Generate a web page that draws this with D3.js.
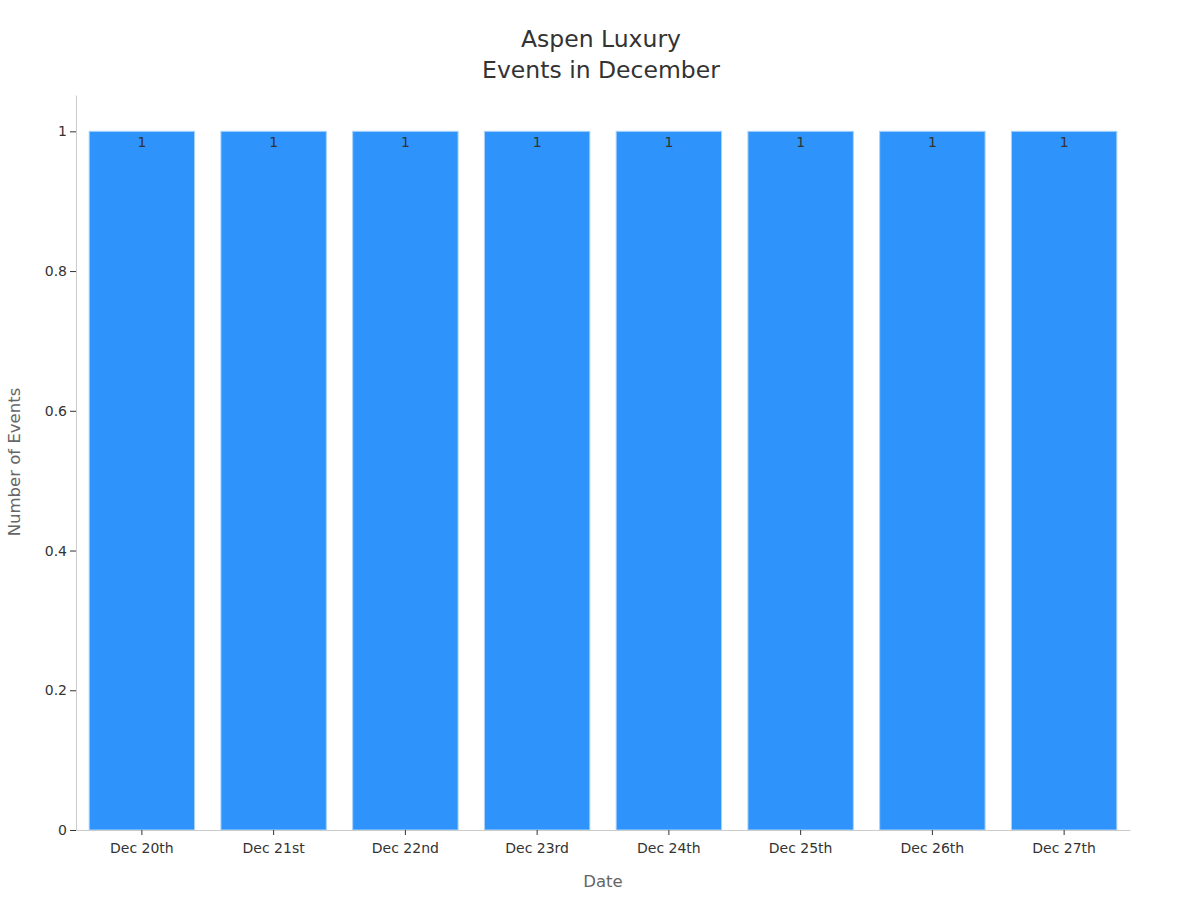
<!DOCTYPE html>
<html><head><meta charset="utf-8">
<script src="https://cdn.jsdelivr.net/npm/d3@7"></script>
<style>body{margin:0;background:#fff;} svg{display:block;}</style>
</head><body>
<svg id="c" width="1200" height="900"></svg>
<script>
const categories = ["Dec 20th","Dec 21st","Dec 22nd","Dec 23rd","Dec 24th","Dec 25th","Dec 26th","Dec 27th"];
const values = [1,1,1,1,1,1,1,1];
const yTicks = [0,0.2,0.4,0.6,0.8,1];
const titleLines = ["Aspen Luxury","Events in December"];

const svg = d3.select("#c");
const font = "DejaVu Sans, sans-serif";
const m = {left:76, right:1130, top:95, bottom:830};

const x = d3.scaleBand().domain(categories).range([m.left, m.right]).paddingInner(0.2).paddingOuter(0.1);
const y = d3.scaleLinear().domain([0,1.052]).range([m.bottom, m.top]);

svg.selectAll("rect.bar").data(values).join("rect").attr("class","bar")
  .attr("x",(d,i)=>x(categories[i])).attr("width",x.bandwidth())
  .attr("y",d=>y(d)).attr("height",d=>y(0)-y(d))
  .attr("fill","#2e93fa").attr("stroke","#a9d2fb").attr("stroke-width",1);

svg.selectAll("text.lbl").data(values).join("text").attr("class","lbl")
  .attr("x",(d,i)=>x(categories[i])+x.bandwidth()/2).attr("y",d=>y(d)+16)
  .attr("text-anchor","middle").attr("font-family",font).attr("font-size",14).attr("fill","#333")
  .text(d=>d);

const yAxis = svg.append("g").attr("transform",`translate(${m.left},0)`)
  .call(d3.axisLeft(y).tickValues(yTicks).tickSize(6).tickSizeOuter(0).tickFormat(d=>d===0||d===1?d3.format("d")(d):d3.format(".1f")(d)));
yAxis.select(".domain").attr("stroke","#ccc");
yAxis.selectAll(".tick line").attr("stroke","#333");
yAxis.selectAll(".tick text").attr("font-family",font).attr("font-size",14).attr("fill","#333").attr("x",-9);

const xAxis = svg.append("g").attr("transform",`translate(0,${m.bottom})`)
  .call(d3.axisBottom(x).tickSize(5).tickSizeOuter(0));
xAxis.select(".domain").attr("stroke","#ccc");
xAxis.selectAll(".tick line").attr("stroke","#333");
xAxis.selectAll(".tick text").attr("font-family",font).attr("font-size",14).attr("fill","#333").attr("dy","1.05em");

svg.append("text").attr("x",603).attr("y",887).attr("text-anchor","middle")
  .attr("font-family",font).attr("font-size",16.5).attr("fill","#666").text("Date");
svg.append("text").attr("transform","translate(20,462) rotate(-90)").attr("text-anchor","middle")
  .attr("font-family",font).attr("font-size",16.5).attr("fill","#666").text("Number of Events");

svg.selectAll("text.title").data(titleLines).join("text").attr("class","title")
  .attr("x",601).attr("y",(d,i)=>47+i*31).attr("text-anchor","middle")
  .attr("font-family",font).attr("font-size",23.5).attr("fill","#333").text(d=>d);
</script>
</body></html>
